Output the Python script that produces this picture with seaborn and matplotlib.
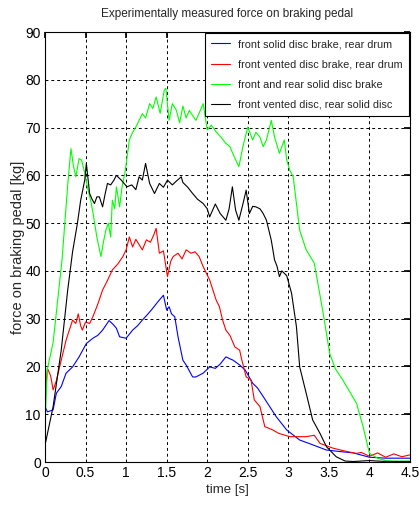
import matplotlib
matplotlib.use("Agg")
import matplotlib.pyplot as plt
import seaborn as sns
import pandas as pd

labels = ["front solid disc brake, rear drum",
          "front vented disc brake, rear drum",
          "front and rear solid disc brake",
          "front vented disc, rear solid disc"]
colors = ["#0000ff", "#ff0000", "#00ff00", "#000000"]

blue_t = [0, 0.03, 0.1, 0.14, 0.2, 0.26, 0.34, 0.42, 0.51, 0.59, 0.65, 0.71, 0.79, 0.84, 0.88, 0.92, 1.0, 1.08, 1.14, 1.2,
          1.27, 1.33, 1.39, 1.46, 1.5, 1.53, 1.56, 1.6, 1.64, 1.7, 1.74, 1.82, 1.86, 1.95, 2.03, 2.1, 2.16, 2.23, 2.28, 2.32,
          2.4, 2.47, 2.56, 2.62, 2.69, 2.77, 2.85, 2.98, 3.14, 3.3, 3.47, 3.63, 3.8, 4.0, 4.2, 4.5]
blue_v = [11.6, 10.5, 10.9, 14.4, 15.8, 18.6, 19.9, 22, 24.8, 25.9, 26.5, 27.6, 29.6, 28.8, 28, 26.2, 25.9, 27.6, 28.5, 29.7,
          31, 32.2, 33.5, 34.9, 31.8, 32.5, 31, 30.4, 26.2, 21.3, 20.3, 17.8, 17.8, 18.6, 19.9, 19.6, 20.5, 22, 21.6, 21.3,
          20.3, 19.2, 16.5, 15.5, 13.7, 11.6, 9.5, 6.7, 4.6, 3.6, 2.5, 2.2, 1.9, 1.0, 0.8, 0.8]

red_t = [0, 0.03, 0.07, 0.1, 0.14, 0.18, 0.26, 0.34, 0.38, 0.41, 0.44, 0.46, 0.5, 0.55, 0.59, 0.65, 0.71, 0.77, 0.83, 0.9,
         0.96, 1.0, 1.04, 1.08, 1.12, 1.16, 1.2, 1.25, 1.3, 1.34, 1.37, 1.41, 1.46, 1.51, 1.55, 1.58, 1.64, 1.69, 1.74, 1.8,
         1.85, 1.9, 1.95, 2.03, 2.11, 2.15, 2.19, 2.23, 2.28, 2.34, 2.4, 2.42, 2.48, 2.54, 2.58, 2.65, 2.71, 2.81, 2.88, 3.02,
         3.22, 3.32, 3.39, 3.55, 3.72, 3.84, 3.9, 4.0, 4.1, 4.2, 4.3, 4.4, 4.5]
red_v = [13.7, 19.6, 18, 15.1, 17, 19.9, 25.5, 29.7, 29, 31, 28.5, 27.6, 29.3, 29, 30.4, 33, 36, 38, 40.2, 41.5,
         43, 44.4, 47.1, 45, 46.6, 45.5, 44.4, 46.5, 46, 47.5, 48.9, 43.7, 44.2, 38.8, 42, 43, 43.7, 42.5, 44.4, 43.7,
         44, 43, 40.9, 38.1, 33.9, 32.5, 29.7, 27.6, 26.5, 24.1, 23.4, 21.8, 17.8, 17.2, 13, 11.6, 7.4, 6.7, 6, 5.3,
         5.3, 5.6, 3.9, 2.9, 2.2, 1.8, 2.0, 1.2, 1.9, 1.0, 1.7, 1.1, 1.5]

green_t = [0, 0.03, 0.1, 0.21, 0.28, 0.32, 0.35, 0.38, 0.42, 0.45, 0.49, 0.53, 0.57, 0.6, 0.64, 0.69, 0.72, 0.75, 0.78, 0.81,
           0.83, 0.86, 0.88, 0.92, 0.95, 0.99, 1.04, 1.08, 1.12, 1.16, 1.2, 1.24, 1.29, 1.33, 1.37, 1.42, 1.47, 1.49, 1.53, 1.57,
           1.62, 1.66, 1.7, 1.74, 1.78, 1.82, 1.86, 1.9, 1.95, 2.0, 2.05, 2.11, 2.17, 2.23, 2.28, 2.33, 2.39, 2.44, 2.5, 2.56,
           2.6, 2.65, 2.69, 2.73, 2.79, 2.83, 2.89, 2.95, 2.98, 3.02, 3.06, 3.14, 3.22, 3.27, 3.32, 3.43, 3.51, 3.58, 3.67, 3.84,
           3.92, 4.0, 4.1, 4.2, 4.3, 4.5]
green_v = [8, 19.5, 25, 42.3, 58, 65.6, 62, 59.7, 63.5, 63.2, 60.5, 57, 54.2, 51.3, 47, 43, 46, 48.5, 50, 47.1,
           54.8, 53, 57.6, 53.4, 57.6, 61, 67.4, 69, 70.1, 71.5, 72.9, 72, 75, 74, 76.4, 73, 77.8, 78.2, 71.5, 75,
           73.6, 71, 74.5, 72, 73.6, 72.5, 71.5, 73, 75, 69.5, 70.5, 69.1, 68, 66.7, 66, 64, 61.8, 66, 70.1, 67.4,
           69, 68, 66, 67.4, 71.5, 68, 64.6, 67.4, 63.2, 61, 59.7, 48.5, 44.4, 43, 41.6, 31.1, 22.7, 19.5, 17.2, 12.3,
           7.5, 1.8, 0.8, 0.3, 0.2, 0.2]

black_t = [0, 0.1, 0.2, 0.28, 0.34, 0.4, 0.44, 0.49, 0.51, 0.55, 0.58, 0.61, 0.64, 0.67, 0.71, 0.74, 0.77, 0.81, 0.85, 0.88,
           0.94, 1.01, 1.07, 1.12, 1.16, 1.2, 1.24, 1.29, 1.35, 1.41, 1.46, 1.51, 1.57, 1.62, 1.68, 1.7, 1.76, 1.82, 1.88, 1.95,
           2.0, 2.03, 2.1, 2.16, 2.23, 2.27, 2.31, 2.35, 2.39, 2.44, 2.48, 2.52, 2.56, 2.6, 2.65, 2.69, 2.73, 2.79, 2.83, 2.86,
           2.89, 2.92, 2.95, 2.98, 3.04, 3.1, 3.14, 3.22, 3.3, 3.39, 3.47, 3.59, 3.7, 3.8, 4.0, 4.2, 4.5]
black_v = [3.5, 11.6, 23.4, 36, 44, 50, 54.8, 59, 62.5, 56.2, 55, 54.1, 55.5, 55.5, 53.4, 56, 58.3, 58, 59, 60,
           59, 57.6, 58, 57, 59.7, 59, 62.5, 58.3, 56.2, 58.3, 57.5, 59, 58, 58.8, 59.7, 58.5, 57.5, 56.2, 55, 54.1,
           53, 51.3, 54, 52, 50.6, 53, 57.6, 52.7, 50.6, 54, 56.9, 52, 53.5, 53.4, 53, 52, 50.6, 46.4, 42.3, 41,
           38.8, 40, 39.5, 39, 35.3, 28.3, 19.9, 14.4, 8.8, 6, 3.2, 1.1, 0.2, 0.1, 0.3, 0.1, 0.1]

xticks = [0, 0.5, 1, 1.5, 2, 2.5, 3, 3.5, 4, 4.5]
xticklabels = ["0", "0.5", "1", "1.5", "2", "2.5", "3", "3.5", "4", "4.5"]
yticks = [0, 10, 20, 30, 40, 50, 60, 70, 80, 90]

frames = []
for lab, tt, vv in zip(labels, [blue_t, red_t, green_t, black_t], [blue_v, red_v, green_v, black_v]):
    frames.append(pd.DataFrame({"t": tt, "v": vv, "series": lab}))
df = pd.concat(frames, ignore_index=True)

sns.set_theme(style="white")
plt.rcParams["font.family"] = ["Liberation Sans", "DejaVu Sans"]

fig = plt.figure(figsize=(4.19, 5.13), dpi=100)
ax = fig.add_axes([45 / 419, 51 / 513, 365 / 419, 430 / 513])

sns.lineplot(data=df, x="t", y="v", hue="series", hue_order=labels, palette=colors,
             estimator=None, sort=False, linewidth=0.8, ax=ax)

ax.set_xlim(0, 4.5)
ax.set_ylim(0, 90)
ax.set_xticks(xticks)
ax.set_xticklabels(xticklabels)
ax.set_yticks(yticks)
ax.grid(True, color="black", linestyle=(0, (3, 3)), linewidth=0.7)
for s in ax.spines.values():
    s.set_color("black")
    s.set_linewidth(0.8)
ax.tick_params(direction="in", length=4, top=True, right=True, labelsize=10, colors="black", pad=3)

ax.set_title("Experimentally measured force on braking pedal", fontsize=8.5, pad=11)
ax.set_xlabel("time [s]", fontsize=9.5, labelpad=3)
ax.set_ylabel("force on braking pedal [kg]", fontsize=10.5, labelpad=0)

leg = ax.legend(loc="upper right", fontsize=7.8, frameon=True, fancybox=False, edgecolor="black",
                framealpha=1, borderaxespad=0.1, handlelength=1.7, handletextpad=0.8,
                labelspacing=0.95, borderpad=0.55)
leg.get_frame().set_linewidth(0.8)

fig.savefig("out.png", dpi=100)
